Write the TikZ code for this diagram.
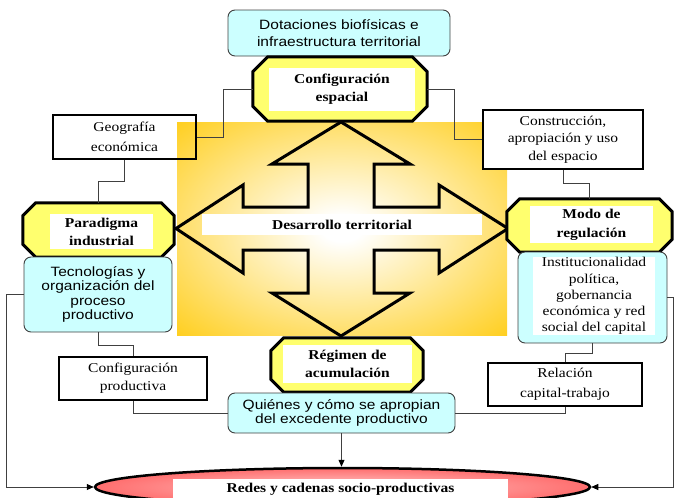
\documentclass[tikz,border=0pt]{standalone}
\usepackage{fontspec}
\setmainfont[FakeStretch=1.15]{Liberation Serif}
\setsansfont[FakeStretch=1.15]{Liberation Sans}
\usetikzlibrary{shapes.misc,shapes.geometric,arrows.meta}
\definecolor{orangeC}{RGB}{255,200,0}
\definecolor{cyanF}{RGB}{204,255,255}
\definecolor{yelF}{RGB}{255,255,110}
\definecolor{lineG}{RGB}{64,64,64}
\definecolor{pinkIn}{RGB}{255,200,200}
\definecolor{pinkOut}{RGB}{255,110,110}
\pgfdeclareradialshading{glow}{\pgfpoint{0bp}{0bp}}{color(0bp)=(white); color(3bp)=(white); color(40bp)=(orangeC); color(80bp)=(orangeC)}
\newcommand\octpath[2]{%
  \draw[octline] ([xshift=#2]#1.north west) -- ([xshift=-#2]#1.north east)
    -- ([yshift=-#2]#1.north east) -- ([yshift=#2]#1.south east)
    -- ([xshift=-#2]#1.south east) -- ([xshift=#2]#1.south west)
    -- ([yshift=#2]#1.south west) -- ([yshift=-#2]#1.north west) -- cycle;}
\begin{document}
\begin{tikzpicture}[x=1pt,y=-1pt,
  cyanbox/.style={draw=lineG, line width=0.9pt, rounded corners=7pt, fill=cyanF,
    font=\sffamily\fontsize{13.5}{14.5}\selectfont, align=center, inner sep=0pt},
  plainbox/.style={draw=black, line width=1.5pt, font=\fontsize{13.5}{18}\selectfont,
    align=center, inner sep=0pt},
  octo/.style={rectangle, inner sep=0pt},
  octline/.style={draw=black, line width=3pt, fill=yelF, line join=miter},
  octotext/.style={fill=white, font=\bfseries\fontsize{13.5}{18}\selectfont, align=center, inner sep=0pt},
  conn/.style={draw=lineG, line width=0.8pt},
  arr/.style={draw=lineG, line width=0.8pt, -{Triangle[length=7pt,width=6pt,color=black]}}
]
\useasboundingbox (0,0) rectangle (675,498);
% central glow
\shade[shading=glow] (177,122) rectangle (507,335);
% cross arrow
\draw[line width=3pt, line join=miter] (341,122) -- (410,164) -- (374,164) -- (374,207) -- (439,207) -- (439,185) -- (508,228.5) -- (439,273) -- (439,250) -- (374,250) -- (374,293) -- (410,293) -- (341,336) -- (272,293) -- (308,293) -- (308,250) -- (243,250) -- (243,273) -- (176,228.5) -- (243,185) -- (243,207) -- (308,207) -- (308,164) -- (272,164) -- cycle;
\node[fill=white, minimum width=280, minimum height=21, inner sep=0pt, font=\bfseries\fontsize{13.5}{16}\selectfont] (des) at (342,224.5) {Desarrollo territorial};

% nodes
\node[cyanbox, minimum width=222, minimum height=46, font=\sffamily\fontsize{13.5}{17}\selectfont] (dot) at (339,33) {Dotaciones biofísicas e\\infraestructura territorial};
\node[octo, minimum width=174, minimum height=64] (cfg) at (340,89) {};
\octpath{cfg}{15pt}
\node[octotext, minimum width=146, minimum height=43] (cfgT) at (342,89.5) {Configuración\\espacial};

\node[plainbox, minimum width=143, minimum height=44, font=\fontsize{13.5}{20}\selectfont] (geo) at (124.5,137) {Geografía\\económica};
\node[plainbox, fill=white, minimum width=160, minimum height=59, font=\fontsize{13.5}{17.5}\selectfont] (con) at (563,139.5) {Construcción,\\apropiación y uso\\del espacio};

\node[octo, minimum width=151, minimum height=54] (par) at (98.5,230) {};
\octpath{par}{13pt}
\node[octotext, minimum width=103, minimum height=35] (parT) at (101.5,231.5) {Paradigma\\industrial};
\node[cyanbox, minimum width=148, minimum height=75] (tec) at (98,294.5) {Tecnologías y\\organización del\\proceso\\productivo};

\node[octo, minimum width=165, minimum height=53] (mod) at (589.5,225.5) {};
\octpath{mod}{13pt}
\node[octotext, minimum width=123, minimum height=37, font=\bfseries\fontsize{13.5}{19}\selectfont] (modT) at (591.5,224.5) {Modo de\\regulación};
\node[cyanbox, minimum width=149, minimum height=91] (ins) at (592.5,297.5) {};
\node[fill=white, minimum width=122, minimum height=78, inner sep=0pt, align=center, font=\fontsize{13.5}{16.2}\selectfont] (insT) at (594,296) {Institucionalidad\\política,\\gobernancia\\económica y red\\social del capital};

\node[plainbox, fill=white, minimum width=148, minimum height=43] (cp) at (133,378.5) {Configuración\\productiva};
\node[octo, minimum width=152, minimum height=54] (reg) at (347,365) {};
\octpath{reg}{13pt}
\node[octotext, minimum width=129, minimum height=38] (regT) at (347.5,364) {Régimen de\\acumulación};
\node[cyanbox, minimum width=227, minimum height=40] (qui) at (341.5,413) {Quiénes y cómo se apropian\\del excedente productivo};
\node[plainbox, fill=white, minimum width=154, minimum height=43, font=\fontsize{13.5}{20}\selectfont] (rel) at (565,384.5) {Relación\\capital-trabajo};

\node[ellipse, draw=black, line width=2.5pt, inner color=pinkIn, outer color=pinkOut, minimum width=495, minimum height=38, inner sep=0pt] (red) at (342.5,487) {};
\node[fill=white, minimum width=335, minimum height=21, inner sep=0pt, font=\bfseries\fontsize{13.5}{16}\selectfont] (redT) at (340.5,489.5) {Redes y cadenas socio-productivas};

% connectors
\coordinate (lc) at (6,487);
\coordinate (rc) at (673,487);
\draw[conn] (cfg.west) -- ++(-29,0) |- (geo.east);
\draw[conn] (cfg.east) -- ++(27,0) |- (con.west);
\draw[conn] (geo.south) -- ++(0,22) -| (par.north);
\draw[conn] (con.south) -- ++(0,14) -| (mod.north);
\draw[conn] (tec.south) -- ++(0,13) -| (cp.north);
\draw[conn] (cp.south) |- (qui.west);
\draw[conn] (ins.south) -- ++(0,10) -| (rel.north);
\draw[conn] (rel.south) |- (qui.east);
\draw[arr] (qui.south) -- (qui.south |- red.north);
\draw[arr] (tec.west) -| (lc) -- (red.west);
\draw[arr] (ins.east) -| (rc) -- (red.east);
\end{tikzpicture}
\end{document}
